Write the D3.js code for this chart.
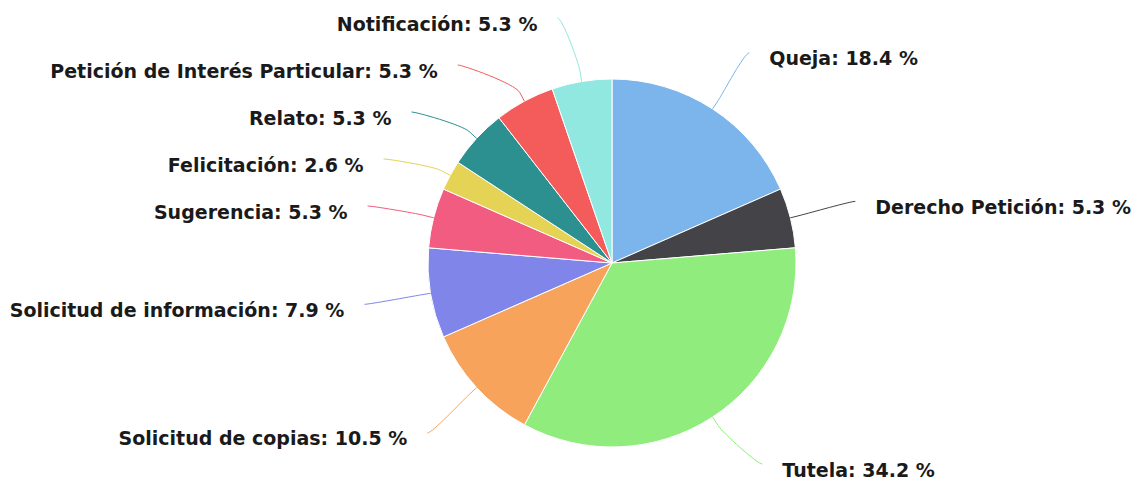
<!DOCTYPE html>
<html><head><meta charset="utf-8">
<script src="https://cdn.jsdelivr.net/npm/d3@7/dist/d3.min.js"></script>
<style>html,body{margin:0;padding:0;background:#fff;}</style>
</head><body>
<svg id="chart" width="1138" height="482"></svg>
<script>
const categories = ["Queja","Derecho Petición","Tutela","Solicitud de copias","Solicitud de información","Sugerencia","Felicitación","Relato","Petición de Interés Particular","Notificación"];
const counts = [7,2,13,4,3,2,1,2,2,2];
const colors = ["#7cb5ec","#434348","#90ed7d","#f7a35c","#8085e9","#f15c80","#e4d354","#2b908f","#f45b5b","#91e8e1"];

const W = 1138, H = 482;
const cx = 612, cy = 263, r = 184;
const labelR = 251, breakOff = 10, gap = 20, spacing = 47;
const minY = 18, maxY = 464;

const svg = d3.select("#chart");
const total = d3.sum(counts);
const data = categories.map((c,i)=>({name:c, value:counts[i], color:colors[i]}));
const pie = d3.pie().value(d=>d.value).sort(null);
const arcs = pie(data);
const arc = d3.arc().innerRadius(0).outerRadius(r);

const g = svg.append("g").attr("transform",`translate(${cx},${cy})`);
g.selectAll("path.slice").data(arcs).join("path")
  .attr("class","slice").attr("d",arc)
  .attr("fill",d=>d.data.color).attr("stroke","#fff").attr("stroke-width",1).attr("stroke-linejoin","round");

// label layout
const items = arcs.map(a=>{
  const mid = (a.startAngle+a.endAngle)/2;
  const sx = Math.sin(mid), sy = -Math.cos(mid);
  return {a, mid, left: mid > Math.PI, target: cy + labelR*sy,
    touch:[cx + r*sx, cy + r*sy], brk:[cx+(r+breakOff)*sx, cy+(r+breakOff)*sy]};
});
function distribute(list){
  list.sort((p,q)=>p.target-q.target);
  let groups = list.map(it=>({m:[it]}));
  const place = gr=>{
    const n = gr.m.length;
    let start = d3.mean(gr.m, d=>d.target) - (n-1)*spacing/2;
    start = Math.max(minY, Math.min(maxY-(n-1)*spacing, start));
    gr.start = start;
  };
  groups.forEach(place);
  let changed = true;
  while(changed){
    changed = false;
    for(let i=0;i<groups.length-1;i++){
      const a = groups[i], b = groups[i+1];
      if(a.start + a.m.length*spacing > b.start + 0.001){
        const ng = {m:a.m.concat(b.m)}; place(ng);
        groups.splice(i,2,ng); changed = true; break;
      }
    }
  }
  groups.forEach(gr=>gr.m.forEach((it,k)=>it.y = gr.start + k*spacing));
}
distribute(items.filter(d=>!d.left));
distribute(items.filter(d=>d.left));
items.forEach(it=>{
  const dy = it.y - cy;
  const ang = Math.asin(Math.max(-1,Math.min(1,dy/labelR)));
  it.x = cx + (it.left?-1:1)*Math.cos(ang)*labelR;
});

svg.append("g").selectAll("path.conn").data(items).join("path")
  .attr("fill","none").attr("stroke",d=>d.a.data.color).attr("stroke-width",1)
  .attr("d",d=>{
    const c1x = d.x + (d.left?5:-5), c1y = d.y;
    const c2x = 2*d.brk[0]-d.touch[0], c2y = 2*d.brk[1]-d.touch[1];
    return `M${d.x},${d.y}C${c1x},${c1y} ${c2x},${c2y} ${d.brk[0]},${d.brk[1]}L${d.touch[0]},${d.touch[1]}`;
  });

svg.append("g").selectAll("text").data(items).join("text")
  .attr("x",d=>d.x + (d.left?-gap:gap))
  .attr("y",d=>d.y + 12.5)
  .attr("text-anchor",d=>d.left?"end":"start")
  .attr("font-family","'DejaVu Sans', Verdana, sans-serif")
  .attr("font-weight","bold").attr("font-size","19px").attr("fill","#1a1a1a")
  .text(d=>`${d.a.data.name}: ${(d.a.data.value/total*100).toFixed(1)} %`);
</script>
</body></html>
